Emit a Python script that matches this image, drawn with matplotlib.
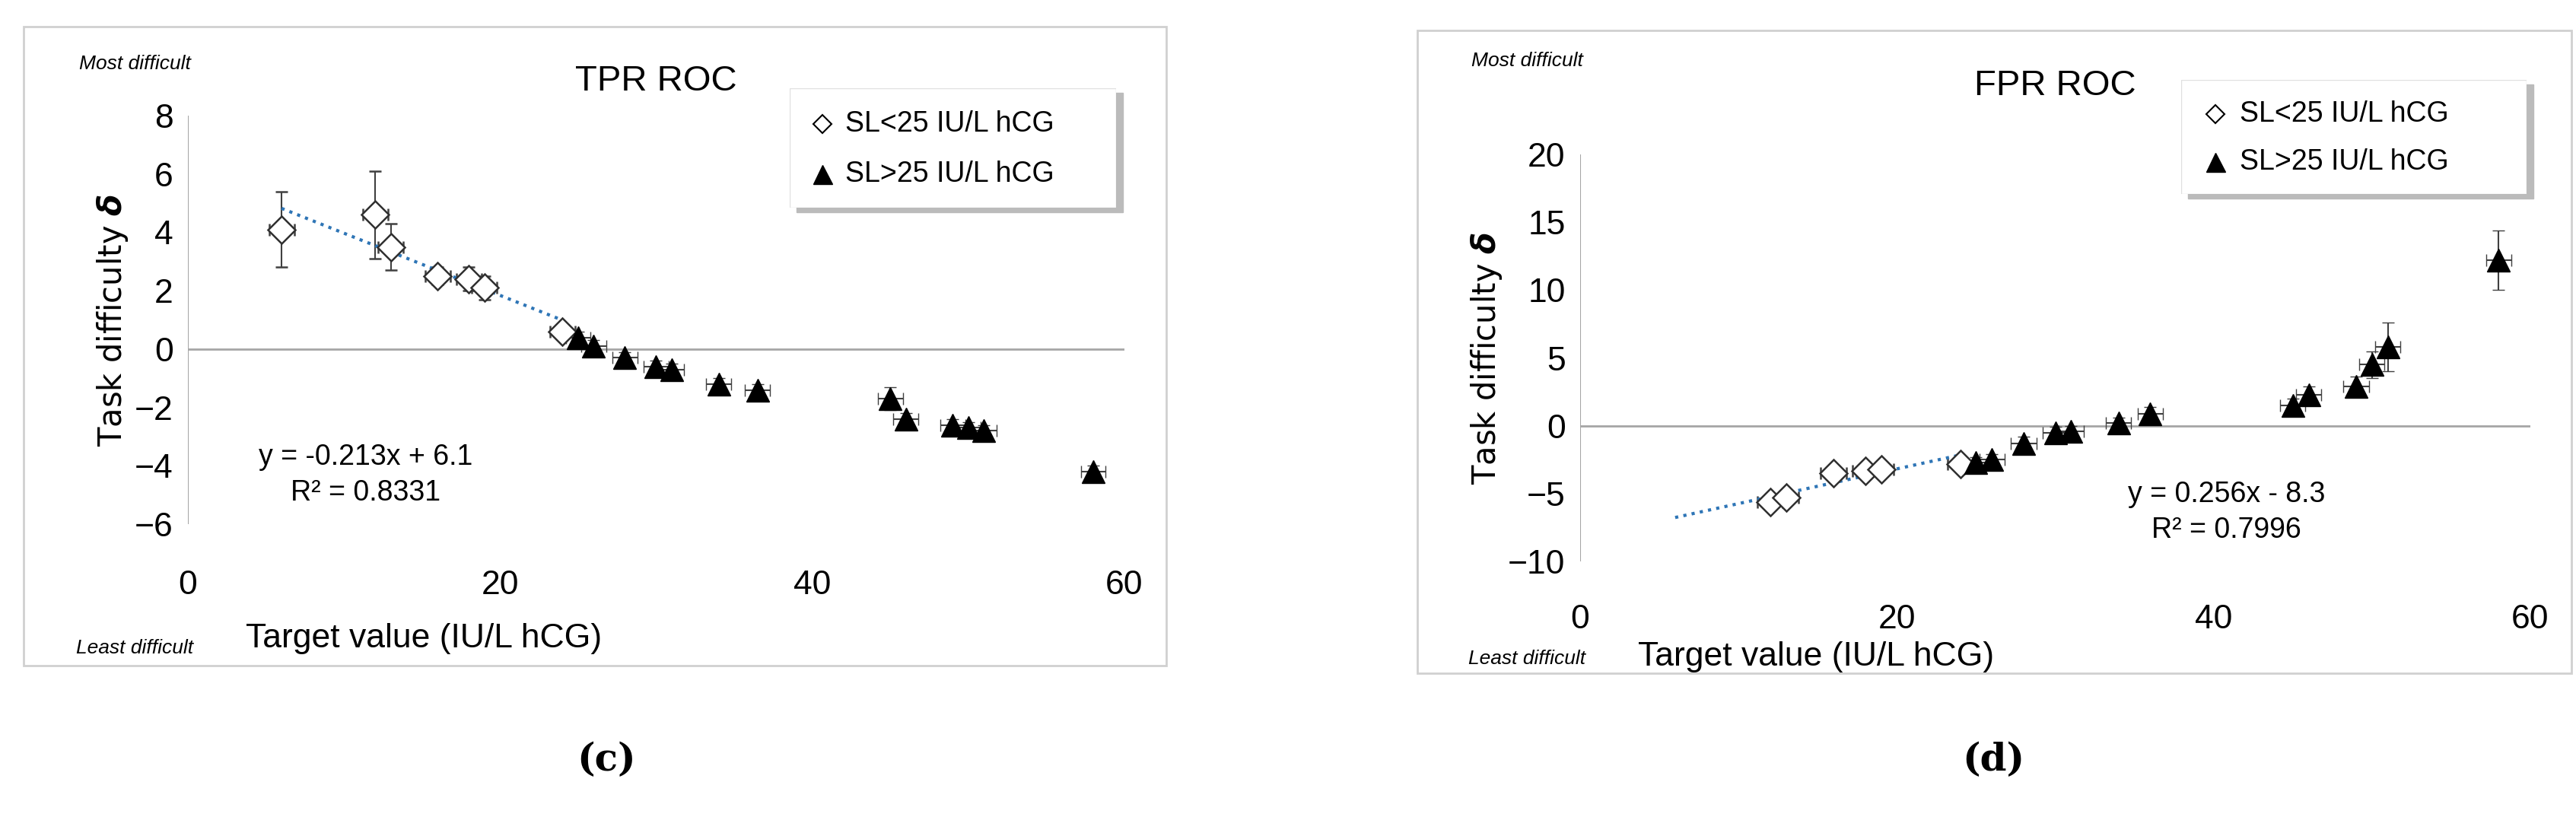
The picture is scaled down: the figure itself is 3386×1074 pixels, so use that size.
import matplotlib.pyplot as plt
from matplotlib.patches import Rectangle

plt.rcParams['font.family'] = ['Liberation Sans Narrow', 'Liberation Sans', 'DejaVu Sans']

# TPR ROC data
tpr_lo_x = [6, 12, 13, 16, 18, 19, 24]
tpr_lo_y = [4.1, 4.6, 3.5, 2.5, 2.4, 2.1, 0.6]
tpr_lo_err = [1.3, 1.5, 0.8, 0.3, 0.4, 0.4, 0.2]
tpr_hi_x = [25, 26, 28, 30, 31, 34, 36.5, 45, 46, 49, 50, 51, 58]
tpr_hi_y = [0.4, 0.1, -0.3, -0.6, -0.7, -1.2, -1.4, -1.7, -2.4, -2.6, -2.7, -2.8, -4.2]
tpr_hi_err = [0.2, 0.2, 0.2, 0.2, 0.2, 0.2, 0.2, 0.4, 0.2, 0.2, 0.2, 0.2, 0.2]

# FPR ROC data
fpr_lo_x = [12, 13, 16, 18, 19, 24]
fpr_lo_y = [-5.6, -5.3, -3.5, -3.3, -3.2, -2.8]
fpr_lo_err = [0.4, 0.4, 0.4, 0.4, 0.4, 0.4]
fpr_hi_x = [25, 26, 28, 30, 31, 34, 36, 45, 46, 49, 50, 51, 58]
fpr_hi_y = [-2.7, -2.5, -1.3, -0.5, -0.4, 0.2, 0.9, 1.5, 2.3, 2.9, 4.5, 5.8, 12.2]
fpr_hi_err = [0.4, 0.4, 0.5, 0.4, 0.4, 0.4, 0.5, 0.5, 0.6, 0.7, 1.0, 1.8, 2.2]

W, H = 3387, 1074
fig = plt.figure(figsize=(W / 100, H / 100), dpi=100)


def px(x0, y0, x1, y1):
    return [x0 / W, 1 - y1 / H, (x1 - x0) / W, (y1 - y0) / H]


def ftext(x, y, s, **kw):
    fig.text(x / W, 1 - y / H, s, **kw)


def panel(box, axbox, title, lx, ly, le, hx, hy, he, ylim, yticks, slope, icpt, eq, r2, eqpos, legbox,
          ys, letter, letx):
    # ys: pixel rows for most difficult, title, xtick labels, xlabel, least difficult
    fig.patches.append(Rectangle((box[0] / W, 1 - box[3] / H), (box[2] - box[0]) / W, (box[3] - box[1]) / H,
                                 transform=fig.transFigure, fill=False, ec='#d0d0d0', lw=2))
    ax = fig.add_axes(px(*axbox))
    ax.set_xlim(0, 60)
    ax.set_ylim(*ylim)
    for s in ax.spines.values():
        s.set_visible(False)
    ax.axhline(0, color='#a6a6a6', lw=2, zorder=0)
    ax.axvline(0, color='#a6a6a6', lw=1.5, zorder=0)
    ax.set_xticks([0, 20, 40, 60])
    ax.set_yticks(yticks)
    ax.tick_params(length=0, labelsize=32, pad=14)
    ax.tick_params(axis='x', pad=ys[2] - axbox[3] - 30)
    ek = dict(ecolor='#404040', elinewidth=1.5, capsize=6, ls='none', xerr=0.8)
    ax.errorbar(lx, ly, yerr=le, marker='D', ms=18, mfc='white', mec='#303030', mew=1.8, **ek)
    ax.errorbar(hx, hy, yerr=he, marker='^', ms=22, mfc='black', mec='black', **ek)
    xs = [6, 24]
    ax.plot(xs, [slope * x + icpt for x in xs], ls=':', color='#2e75b6', lw=3)
    ax.text(eqpos[0], eqpos[1], eq + '\n' + r2, transform=ax.transAxes, fontsize=27, ha='center', va='center',
            linespacing=1.4)
    ax.set_ylabel('Task difficulty $\\boldsymbol{\\delta}$', fontsize=30, family='DejaVu Sans')
    cx = (axbox[0] + axbox[2]) / 2
    ftext(cx, ys[1], title, fontsize=34, ha='center', va='center')
    ftext(axbox[0] + 310, ys[3], 'Target value (IU/L hCG)', fontsize=32, ha='center', va='center')
    ftext(axbox[0] - 70, ys[0], 'Most difficult', style='italic', fontsize=19, ha='center', va='center')
    ftext(axbox[0] - 70, ys[4], 'Least difficult', style='italic', fontsize=19, ha='center', va='center')
    # legend box
    lax = fig.add_axes(px(*legbox))
    lax.set_xlim(0, 1)
    lax.set_ylim(0, 1)
    lax.axis('off')
    lax.add_patch(Rectangle((0.02, -0.04), 1, 1, color='#bbbbbb', zorder=0, transform=lax.transAxes, clip_on=False))
    lax.add_patch(Rectangle((0, 0), 1, 1, fc='white', ec='#e0e0e0', zorder=1, transform=lax.transAxes))
    lax.plot([0.1], [0.7], marker='D', ms=12, mfc='white', mec='black', mew=1.5, zorder=2)
    lax.plot([0.1], [0.28], marker='^', ms=18, color='black', zorder=2)
    lax.text(0.17, 0.7, 'SL<25 IU/L hCG', fontsize=27, va='center', zorder=2)
    lax.text(0.17, 0.28, 'SL>25 IU/L hCG', fontsize=27, va='center', zorder=2)
    ftext(letx, 1000, letter, fontsize=36, ha='center', va='center', weight='bold', family='DejaVu Serif')


panel((31, 35, 1533, 875), (247, 152, 1478, 689), 'TPR ROC',
      tpr_lo_x, tpr_lo_y, tpr_lo_err, tpr_hi_x, tpr_hi_y, tpr_hi_err,
      (-6, 8), [-6, -4, -2, 0, 2, 4, 6, 8], -0.213, 6.1, 'y = -0.213x + 6.1', 'R² = 0.8331', (0.19, 0.12),
      (1038, 116, 1467, 273), (84, 107, 762, 840, 852), '(c)', 797)
panel((1863, 40, 3380, 885), (2077, 203, 3326, 738), 'FPR ROC',
      fpr_lo_x, fpr_lo_y, fpr_lo_err, fpr_hi_x, fpr_hi_y, fpr_hi_err,
      (-10, 20), [-10, -5, 0, 5, 10, 15, 20], 0.256, -8.3, 'y = 0.256x - 8.3', 'R² = 0.7996', (0.68, 0.12),
      (2867, 105, 3321, 255), (80, 113, 808, 863, 866), '(d)', 2620)

fig.savefig('out.png', dpi=100)
